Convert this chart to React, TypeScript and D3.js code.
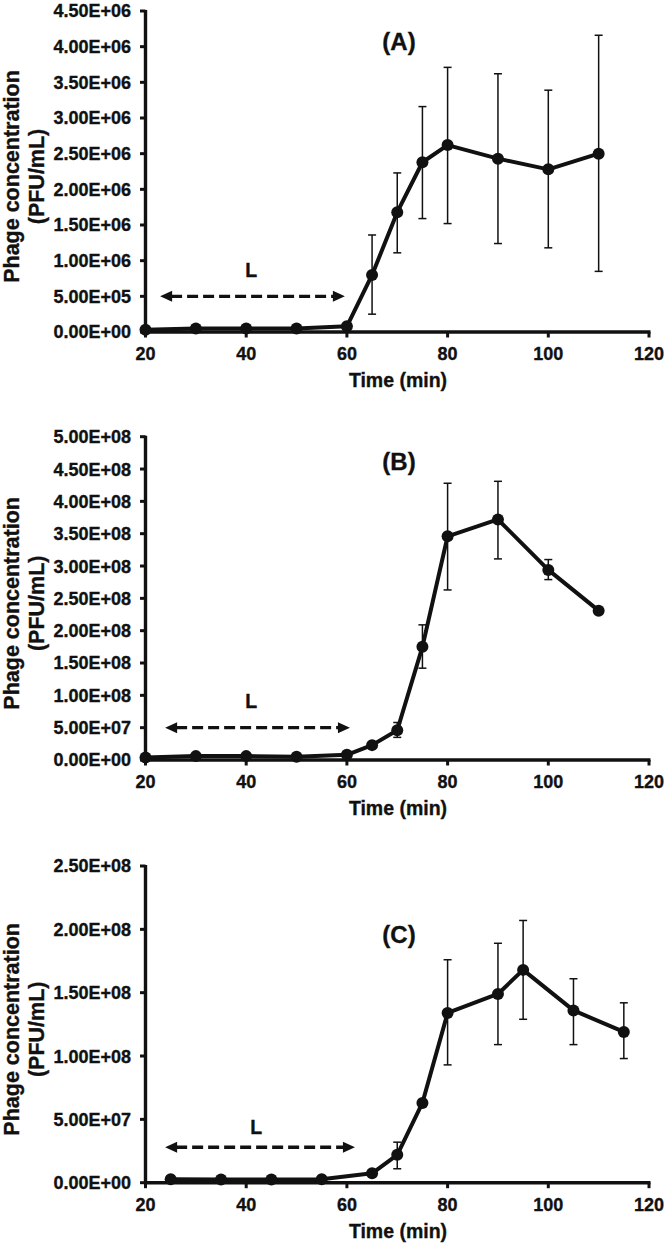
import React from "react";
import * as d3 from "d3";

// ---------- data ----------
const timeAB = [20, 30, 40, 50, 60, 65, 70, 75, 80, 90, 100, 110];
const timeC = [25, 35, 45, 55, 65, 70, 75, 80, 90, 95, 105, 115];

// Panel A (PFU/mL, x1e6)
const meanA = [0.03, 0.05, 0.05, 0.05, 0.08, 0.8, 1.68, 2.38, 2.62, 2.43, 2.28, 2.5];
const upperA = [null, null, null, null, null, 1.36, 2.23, 3.16, 3.71, 3.62, 3.39, 4.16];
const lowerA = [null, null, null, null, null, 0.25, 1.11, 1.59, 1.52, 1.24, 1.18, 0.85];

// Panel B (PFU/mL, x1e8)
const meanB = [0.04, 0.06, 0.06, 0.05, 0.08, 0.23, 0.46, 1.75, 3.46, 3.72, 2.94, 2.31];
const upperB = [null, null, null, null, null, null, 0.58, 2.09, 4.28, 4.31, 3.1, null];
const lowerB = [null, null, null, null, null, null, 0.35, 1.42, 2.63, 3.11, 2.79, null];

// Panel C (PFU/mL, x1e8)
const meanC = [0.027, 0.025, 0.025, 0.027, 0.074, 0.22, 0.63, 1.34, 1.49, 1.68, 1.36, 1.19];
const upperC = [null, null, null, null, null, 0.32, null, 1.76, 1.89, 2.07, 1.61, 1.42];
const lowerC = [null, null, null, null, null, 0.11, null, 0.93, 1.09, 1.29, 1.09, 0.98];

const xTicks = [20, 40, 60, 80, 100, 120];
const yMaxA = 4.5e6, yStepA = 0.5e6;
const yMaxB = 5e8, yStepB = 0.5e8;
const yMaxC = 2.5e8, yStepC = 0.5e8;

// latent-period arrow annotation: [start time, end time, level]
const arrowA = [22.9, 59.6, 0.5e6];
const arrowB = [23.9, 60.6, 0.5e8];
const arrowC = [23.9, 61.6, 0.28e8];

const panelTitles = ["(A)", "(B)", "(C)"];
const xTitle = "Time (min)";
const yTitle1 = "Phage concentration";
const yTitle2 = "(PFU/mL)";
const latentLabel = "L";

// ---------- layout ----------
const W = 666, H = 1248;
const X0 = 145.5, X1 = 649;
const FONT = "'Liberation Sans', Arial, sans-serif";
const INK = "#111";
const TXT = { fontFamily: FONT, fontWeight: "bold", fill: INK, stroke: INK, strokeWidth: 0.35 } as any;

function fmtE(v: number) {
  const s = v.toExponential(2); // e.g. 5.00e+5
  const m = s.match(/^(-?[\d.]+)e([+-])(\d+)$/);
  if (!m) return s;
  return `${m[1]}E${m[2]}${m[3].padStart(2, "0")}`;
}

type PanelProps = {
  times: number[];
  mean: number[];
  upper: (number | null)[];
  lower: (number | null)[];
  unit: number;
  yMax: number;
  yStep: number;
  top: number;
  bottom: number;
  title: string;
  titleY: number;
  arrow: number[];
  lGap: number;
  lX: number;
};

function Panel(p: PanelProps) {
  const x = d3.scaleLinear().domain([20, 120]).range([X0, X1]);
  const y = d3.scaleLinear().domain([0, p.yMax]).range([p.bottom, p.top]);
  const yTicks = d3.range(0, p.yMax + p.yStep / 2, p.yStep);
  const pts = p.times.map((t, i) => [x(t), y(p.mean[i] * p.unit)] as [number, number]);
  const line = d3.line()(pts) || "";
  const midY = (p.top + p.bottom) / 2;
  const ax1 = x(p.arrow[0]), ax2 = x(p.arrow[1]), ay = y(p.arrow[2]);
  const ah = 12, aw = 5.5;
  return (
    <g>
      {/* y axis */}
      <line x1={X0} x2={X0} y1={p.top - 1} y2={p.bottom + 1.5} stroke={INK} strokeWidth={3.4} />
      {yTicks.map((v) => (
        <g key={v}>
          <line x1={X0 - 5.5} x2={X0} y1={y(v)} y2={y(v)} stroke={INK} strokeWidth={3} />
          <text x={131} y={y(v)} dy="0.36em" textAnchor="end" fontSize={18} style={TXT}>
            {fmtE(v)}
          </text>
        </g>
      ))}
      {/* x axis */}
      <line x1={X0 - 1.5} x2={X1 + 1.5} y1={p.bottom} y2={p.bottom} stroke={INK} strokeWidth={3.4} />
      {xTicks.map((t) => (
        <g key={t}>
          <line x1={x(t)} x2={x(t)} y1={p.bottom} y2={p.bottom + 5.5} stroke={INK} strokeWidth={3} />
          <text x={x(t)} y={p.bottom + 28} textAnchor="middle" fontSize={18} style={TXT}>
            {t}
          </text>
        </g>
      ))}
      <text x={398} y={p.bottom + 55} textAnchor="middle" fontSize={19.5} style={TXT}>
        {xTitle}
      </text>
      <g transform={`translate(18.5,${midY + 5}) rotate(-90)`}>
        <text x={0} y={0} textAnchor="middle" fontSize={21.5} style={TXT}>
          {yTitle1}
        </text>
        <text x={0} y={25} textAnchor="middle" fontSize={21.5} style={TXT}>
          {yTitle2}
        </text>
      </g>
      {/* panel title */}
      <text x={399} y={p.titleY} textAnchor="middle" fontSize={24} style={TXT}>
        {p.title}
      </text>
      {/* latent period arrow */}
      <line x1={ax1 + ah - 1} x2={ax2 - ah + 1} y1={ay} y2={ay} stroke={INK} strokeWidth={3.4} strokeDasharray="11,5" />
      <path d={`M${ax1},${ay} L${ax1 + ah},${ay - aw} L${ax1 + ah},${ay + aw} Z`} fill={INK} />
      <path d={`M${ax2},${ay} L${ax2 - ah},${ay - aw} L${ax2 - ah},${ay + aw} Z`} fill={INK} />
      <text x={x(p.lX)} y={ay - p.lGap} textAnchor="middle" fontSize={19.5} style={TXT}>
        {latentLabel}
      </text>
      {/* error bars */}
      {p.times.map((t, i) => {
        const u = p.upper[i], l = p.lower[i];
        if (u == null || l == null) return null;
        const cx = x(t), yu = y(u * p.unit), yl = y(l * p.unit);
        return (
          <g key={t} stroke={INK} strokeWidth={1.5}>
            <line x1={cx} x2={cx} y1={yu} y2={yl} />
            <line x1={cx - 4} x2={cx + 4} y1={yu} y2={yu} />
            <line x1={cx - 4} x2={cx + 4} y1={yl} y2={yl} />
          </g>
        );
      })}
      {/* series */}
      <path d={line} fill="none" stroke={INK} strokeWidth={4} strokeLinejoin="round" />
      {pts.map((pt, i) => (
        <circle key={i} cx={pt[0]} cy={pt[1]} r={6} fill={INK} />
      ))}
    </g>
  );
}

export default function App() {
  return (
    <svg width={W} height={H} style={{ position: "absolute", left: 0, top: 0, background: "#fff" }}>
      <rect width={W} height={H} fill="#fff" />
      <Panel times={timeAB} mean={meanA} upper={upperA} lower={lowerA} unit={1e6} yMax={yMaxA} yStep={yStepA}
        top={11} bottom={332} title={panelTitles[0]} titleY={50} arrow={arrowA} lGap={19} lX={41} />
      <Panel times={timeAB} mean={meanB} upper={upperB} lower={lowerB} unit={1e8} yMax={yMaxB} yStep={yStepB}
        top={436.7} bottom={760} title={panelTitles[1]} titleY={470} arrow={arrowB} lGap={20} lX={41} />
      <Panel times={timeC} mean={meanC} upper={upperC} lower={lowerC} unit={1e8} yMax={yMaxC} yStep={yStepC}
        top={866} bottom={1182.7} title={panelTitles[2]} titleY={943} arrow={arrowC} lGap={13} lX={42} />
    </svg>
  );
}
